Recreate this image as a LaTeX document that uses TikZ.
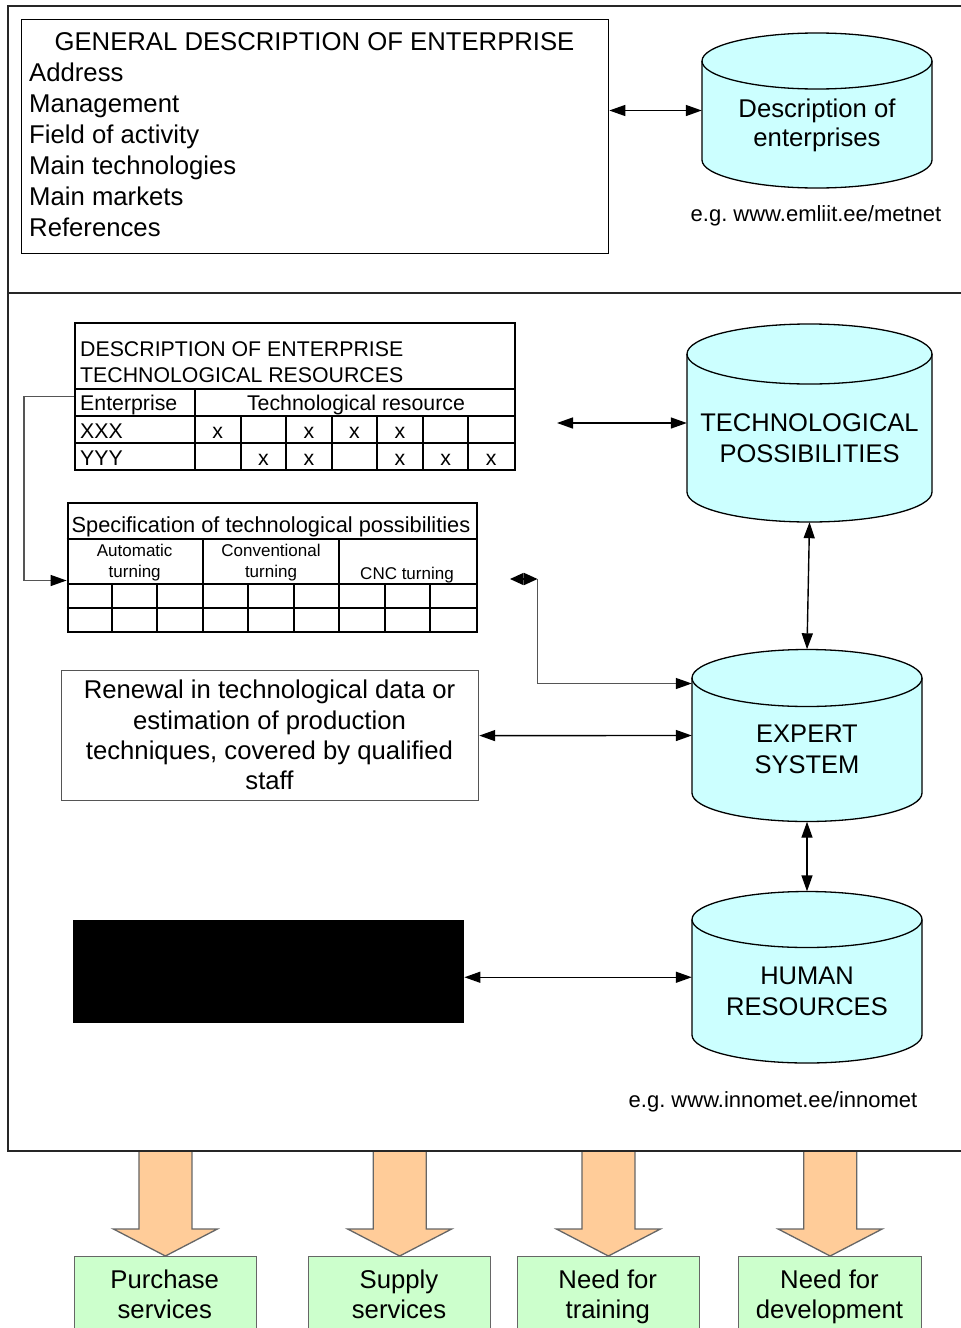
\documentclass[tikz,border=0pt]{standalone}
\usepackage{fontspec}
\setmainfont{Liberation Sans}
\usetikzlibrary{arrows.meta,calc}
\frenchspacing

\definecolor{cylcyan}{HTML}{CCFFFF}
\definecolor{peach}{HTML}{FFCC99}
\definecolor{mint}{HTML}{CCFFCC}
\definecolor{linkgray}{HTML}{555555}
\definecolor{edgegray}{HTML}{666666}

\newcommand{\fbig}{\fontsize{25.7}{30}\selectfont}
\newcommand{\fcyl}{\fontsize{25.5}{30}\selectfont}
\newcommand{\fmid}{\fontsize{22}{26}\selectfont}
\newcommand{\ftab}{\fontsize{21.3}{25}\selectfont}
\newcommand{\fspec}{\fontsize{21.8}{25}\selectfont}
\newcommand{\fsmall}{\fontsize{17}{20}\selectfont}

% database cylinder: name, centre x, x radius, top ellipse y, bottom ellipse y, y radius
\newcommand{\dbcylinder}[6]{%
  \fill[cylcyan] (#2-#3,#4) -- (#2-#3,#5)
    arc[start angle=180,end angle=0,x radius=#3,y radius=#6] -- (#2+#3,#4)
    arc[start angle=0,end angle=-180,x radius=#3,y radius=#6] -- cycle;
  \draw[cylline] (#2-#3,#4) -- (#2-#3,#5)
    arc[start angle=180,end angle=0,x radius=#3,y radius=#6] -- (#2+#3,#4);
  \draw[cylline] (#2,#4) ellipse[x radius=#3,y radius=#6];
  \path (#2,{(#4+#5)/2}) node[inner sep=0pt,minimum width={2*#3},
    minimum height={#5-#4+2*#6}] (#1) {};
}

% wide block arrow pointing down onto a box
\newcommand{\blockdown}[1]{%
  \draw[blockarrow] (#1.north) -- ++(-52,-27) -- ++(25.5,0) -- ++(0,-78)
    -- ++(53,0) -- ++(0,78) -- ++(25.5,0) -- cycle;
}

\tikzset{
  >={Triangle[length=16pt,width=11pt]},
  frame/.style={draw=black!85, line width=1.4pt},
  cylline/.style={draw=black, line width=1.3pt},
  txt/.style={inner sep=0pt, anchor=base},
  txtw/.style={inner sep=0pt, anchor=base west},
  boxframe/.style={draw=black, line width=1.3pt, inner sep=0pt, anchor=north west},
  tabframe/.style={draw=black, line width=2pt, inner sep=0pt, anchor=north west},
  grid/.style={draw=black, line width=2pt},
  link/.style={draw=black, line width=1.4pt, <->},
  graylink/.style={draw=linkgray, line width=1.3pt,
    -{Triangle[length=16pt,width=11pt,black]}},
  blockarrow/.style={fill=peach, draw=edgegray, line width=1.3pt, line join=miter},
  greenbox/.style={fill=mint, draw=edgegray, line width=1.3pt, inner sep=0pt,
    anchor=north west, minimum height=100},
}

\begin{document}
\begin{tikzpicture}[x=1pt,y=-1pt]
\useasboundingbox (0,0) rectangle (961,1328);
\clip (0,0) rectangle (961,1328);

% outer frame with two sections
\draw[frame] (961,6) -- (8,6) -- (8,1151) -- (961,1151);
\draw[frame] (8,293) -- (961,293);

% ---------- general description ----------
\node[boxframe, minimum width=587, minimum height=234] (general) at (21,19) {};
\node[txt] (gtitle) at (314.5,50) {\fbig GENERAL DESCRIPTION OF ENTERPRISE};
\node[txtw] (gaddr) at (29,81) {\fbig Address};
\node[txtw] (gmgmt) at (29,112) {\fbig Management};
\node[txtw] (gfield) at (29,143) {\fbig Field of activity};
\node[txtw] (gtech) at (29,174) {\fbig Main technologies};
\node[txtw] (gmark) at (29,205) {\fbig Main markets};
\node[txtw] (gref) at (29,236) {\fbig References};

\dbcylinder{descr}{817}{115}{61}{160}{28}
\node[txt] (descr1) at (817,117) {\fbig Description of};
\node[txt] (descr2) at (817,146) {\fbig enterprises};
\node[txt] (metnet) at (816,221) {\fmid e.g. www.emliit.ee/metnet};

\draw[link] (general.east |- descr.west) -- (descr.west);

% ---------- technological resources table ----------
\node[tabframe, minimum width=440, minimum height=147] (techres) at (74,322) {};
\draw[grid] (74,389) -- (514,389);
\draw[grid] (74,416) -- (514,416);
\draw[grid] (74,443) -- (514,443);
\draw[grid] (195,389) -- (195,469);
\foreach \k in {1,...,6}
  \draw[grid] ({195+45.57*\k},416) -- ({195+45.57*\k},469);
\node[txtw] (tr1) at (80,356) {\ftab DESCRIPTION OF ENTERPRISE};
\node[txtw] (tr2) at (80,382) {\ftab TECHNOLOGICAL RESOURCES};
\node[txtw] (trent) at (80,410) {\ftab Enterprise};
\node[txt] (trres) at (356,410) {\ftab Technological resource};
\node[txtw] (trx) at (80,438) {\ftab XXX};
\node[txtw] (try) at (80,465) {\ftab YYY};
\foreach \k in {0,2,3,4}
  \node[txt] (xa\k) at ({195+45.57*(\k+0.5)},438) {\ftab x};
\foreach \k in {1,2,4,5,6}
  \node[txt] (xb\k) at ({195+45.57*(\k+0.5)},465) {\ftab x};

% ---------- specification table ----------
\node[tabframe, minimum width=409, minimum height=129] (spec) at (66.6,502) {};
\draw[grid] (66.6,539) -- (475.6,539);
\draw[grid] (66.6,584.3) -- (475.6,584.3);
\draw[grid] (66.6,607.7) -- (475.6,607.7);
\draw[grid] (202.8,539) -- (202.8,631);
\draw[grid] (339.4,539) -- (339.4,631);
\foreach \k in {1,2,4,5,7,8}
  \draw[grid] ({66.6+45.44*\k},584.3) -- ({66.6+45.44*\k},631);
\node[txt] (sptitle) at (271,532) {\fspec Specification of technological possibilities};
\node[txt] (spa1) at (134.7,556.5) {\fsmall Automatic};
\node[txt] (spa2) at (134.7,577.5) {\fsmall turning};
\node[txt] (spb1) at (271,556.5) {\fsmall Conventional};
\node[txt] (spb2) at (271,577.5) {\fsmall turning};
\node[txt] (spc) at (407,579) {\fsmall CNC turning};

\draw[graylink] (techres.west) -- ++(-50,0) |- ([yshift=-13pt]spec.west);

% ---------- databases on the right ----------
\dbcylinder{tech}{809.5}{122.5}{354}{492}{30}
\node[txt] (tech1) at (809.5,431) {\fcyl TECHNOLOGICAL};
\node[txt] (tech2) at (809.5,462) {\fcyl POSSIBILITIES};

\dbcylinder{expert}{807}{115}{678}{793}{28.5}
\node[txt] (exp1) at (807,742) {\fcyl EXPERT};
\node[txt] (exp2) at (807,773) {\fcyl SYSTEM};

\dbcylinder{human}{807}{115}{919.5}{1035}{28}
\node[txt] (hum1) at (807,984) {\fcyl HUMAN};
\node[txt] (hum2) at (807,1015) {\fcyl RESOURCES};
\node[txt] (innomet) at (773,1107) {\fmid e.g. www.innomet.ee/innomet};

% ---------- boxes on the left ----------
\node[draw=linkgray, line width=1.2pt, inner sep=0pt, anchor=north west,
  minimum width=417, minimum height=130] (renewal) at (61,670) {};
\node[txt] (ren1) at (269.5,698) {\fbig Renewal in technological data or};
\node[txt] (ren2) at (269.5,729) {\fbig estimation of production};
\node[txt] (ren3) at (269.5,759) {\fbig techniques, covered by qualified};
\node[txt] (ren4) at (269.5,789) {\fbig staff};

\node[fill=black, inner sep=0pt, anchor=north west,
  minimum width=391, minimum height=103] (black) at (73,920) {};

% ---------- connectors ----------
\coordinate (techin) at (557,423);
\draw[link] (techin) -- (tech.west);
\draw[link] (tech.south) -- (expert.north);
\draw[link] (renewal.east) -- (expert.west);
\draw[link] (expert.south) -- (human.north);
\draw[link] (black.east |- human.west) -- (human.west);

\coordinate (hook) at (537.5,579);
\coordinate (hookend) at (510,579);
\draw[link, {Triangle[length=13.5pt,width=12pt]}-{Triangle[length=13.5pt,width=12pt]}]
  (hookend) -- (hook);
\draw[graylink] (hook) |- ([yshift=52pt]expert.west);

% ---------- outcomes ----------
\node[greenbox, minimum width=182.5] (buy) at (73.5,1256) {};
\node[greenbox, minimum width=182] (supply) at (308,1256) {};
\node[greenbox, minimum width=182.5] (train) at (516.5,1256) {};
\node[greenbox, minimum width=183] (develop) at (738,1256) {};

\blockdown{buy}
\blockdown{supply}
\blockdown{train}
\blockdown{develop}
\draw[frame] (8,1151) -- (961,1151);

\node[txt] (buy1) at (164.75,1288) {\fbig Purchase};
\node[txt] (buy2) at (164.75,1318) {\fbig services};
\node[txt] (sup1) at (399,1288) {\fbig Supply};
\node[txt] (sup2) at (399,1318) {\fbig services};
\node[txt] (tra1) at (607.75,1288) {\fbig Need for};
\node[txt] (tra2) at (607.75,1318) {\fbig training};
\node[txt] (dev1) at (829.5,1288) {\fbig Need for};
\node[txt] (dev2) at (829.5,1318) {\fbig development};
\end{tikzpicture}
\end{document}
